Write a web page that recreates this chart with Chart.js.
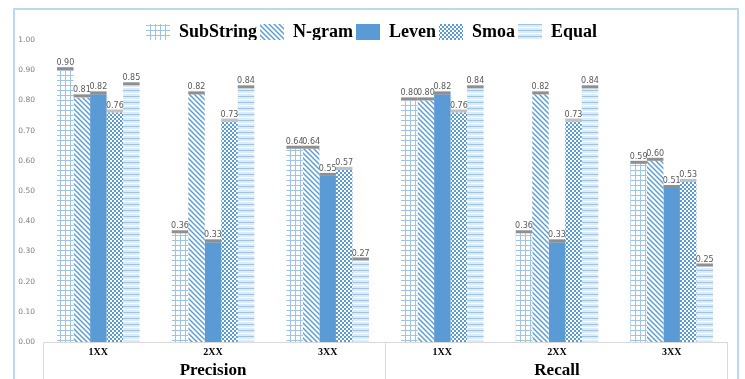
<!DOCTYPE html>
<html>
<head>
<meta charset="utf-8">
<script src="https://cdn.jsdelivr.net/npm/chart.js@4/dist/chart.umd.min.js"></script>
<style>
  html, body { margin: 0; padding: 0; background: #fff; }
  #wrap { width: 745px; height: 379px; position: relative; }
</style>
</head>
<body>
<div id="wrap"><canvas id="c" width="745" height="379"></canvas></div>
<script>
// Categories (two groups of three) and the scores for each matcher
const categories = ['1XX', '2XX', '3XX', '1XX', '2XX', '3XX'];
const groupLabels = ['Precision', 'Recall'];
const seriesNames = ['SubString', 'N-gram', 'Leven', 'Smoa', 'Equal'];
const subString = [0.90, 0.36, 0.64, 0.80, 0.36, 0.59];
const nGram     = [0.81, 0.82, 0.64, 0.80, 0.82, 0.60];
const leven     = [0.82, 0.33, 0.55, 0.82, 0.33, 0.51];
const smoa      = [0.76, 0.73, 0.57, 0.76, 0.73, 0.53];
const equal     = [0.85, 0.84, 0.27, 0.84, 0.84, 0.25];

const BLUE = '#5B9BD5';
const LIGHT = '#9DC3E6';
const PALE = '#DDEBF7';

function tile(w, h, draw) {
  const cv = document.createElement('canvas');
  cv.width = w; cv.height = h;
  const g = cv.getContext('2d');
  draw(g, w, h);
  return document.getElementById('c').getContext('2d').createPattern(cv, 'repeat');
}

// grid fill
const gridPat = tile(5, 5, (g, w, h) => {
  g.fillStyle = '#fff'; g.fillRect(0, 0, w, h);
  g.fillStyle = LIGHT; g.fillRect(0, 0, w, 1); g.fillRect(0, 0, 1, h);
});
// downward diagonal stripes
const diagPat = tile(5, 5, (g, w, h) => {
  g.fillStyle = '#fff'; g.fillRect(0, 0, w, h);
  g.strokeStyle = BLUE; g.lineWidth = 1.4;
  for (let k = -1; k <= 1; k++) {
    g.beginPath(); g.moveTo(k * w - 1, -1); g.lineTo(k * w + w + 1, h + 1); g.stroke();
  }
});
// small checkerboard
const checkPat = tile(4, 4, (g, w, h) => {
  g.fillStyle = '#fff'; g.fillRect(0, 0, w, h);
  g.fillStyle = BLUE; g.fillRect(0, 0, 2, 2); g.fillRect(2, 2, 2, 2);
});
// horizontal stripes on pale blue
const stripePat = tile(4, 6, (g, w, h) => {
  g.fillStyle = PALE; g.fillRect(0, 0, w, h);
  g.fillStyle = LIGHT; g.fillRect(0, 0, w, 1);
  g.fillStyle = '#fff'; g.fillRect(0, 3, w, 1);
});

const fills = [gridPat, diagPat, BLUE, checkPat, stripePat];
const values = [subString, nGram, leven, smoa, equal];

// gray cap on top of every bar plus the value printed above it
const barLabels = {
  id: 'barLabels',
  afterDatasetsDraw(chart) {
    const ctx = chart.ctx;
    ctx.save();
    chart.data.datasets.forEach((ds, di) => {
      const meta = chart.getDatasetMeta(di);
      meta.data.forEach((bar, i) => {
        const w = bar.width;
        ctx.fillStyle = di === 3 ? 'rgba(140,140,140,0.55)' : '#8f8f8f';
        ctx.fillRect(bar.x - w / 2, bar.y - 3, w, 3);
        ctx.fillStyle = '#595959';
        ctx.font = '8px "DejaVu Sans", sans-serif';
        ctx.textAlign = 'center';
        ctx.textBaseline = 'bottom';
        ctx.fillText(ds.data[i].toFixed(2), bar.x, bar.y - 3);
      });
    });
    ctx.restore();
  }
};

// outer frame and the box around the category labels
const frame = {
  id: 'frame',
  afterDraw(chart) {
    const ctx = chart.ctx;
    const a = chart.chartArea;
    ctx.save();
    ctx.strokeStyle = '#BDD7EE';
    ctx.lineWidth = 2;
    ctx.beginPath();
    ctx.moveTo(14, 379); ctx.lineTo(14, 9); ctx.lineTo(738, 9); ctx.lineTo(738, 379);
    ctx.stroke();
    ctx.strokeStyle = '#D9D9D9';
    ctx.lineWidth = 1;
    const mid = (a.left + a.right) / 2;
    ctx.beginPath();
    ctx.moveTo(a.left + 2.5, 379); ctx.lineTo(a.left + 2.5, a.bottom + 0.5);
    ctx.lineTo(a.right - 1.5, a.bottom + 0.5); ctx.lineTo(a.right - 1.5, 379);
    ctx.moveTo(Math.round(mid) + 0.5, a.bottom); ctx.lineTo(Math.round(mid) + 0.5, 379);
    ctx.stroke();
    ctx.restore();
  }
};

new Chart(document.getElementById('c'), {
  type: 'bar',
  data: {
    labels: categories,
    datasets: seriesNames.map((name, i) => ({
      label: name,
      data: values[i],
      backgroundColor: fills[i],
      borderWidth: 0,
      categoryPercentage: 0.72,
      barPercentage: 1.0,
      xAxisID: 'x'
    }))
  },
  options: {
    responsive: false,
    animation: false,
    layout: { padding: { left: 14, right: 16, top: 20, bottom: 0 } },
    plugins: {
      legend: {
        position: 'top',
        maxHeight: 20,
        labels: {
          boxWidth: 24,
          boxHeight: 16,
          padding: 3,
          color: '#000',
          font: { family: '"Liberation Serif", "Times New Roman", serif', weight: 'bold', size: 18 }
        }
      },
      tooltip: { enabled: false }
    },
    scales: {
      x: {
        position: 'bottom',
        grid: { display: false, drawTicks: false, tickLength: 0 },
        border: { display: false },
        ticks: {
          color: '#000',
          padding: 4,
          font: { family: '"Liberation Serif", serif', weight: 'bold', size: 10 }
        },
        afterFit(s) { s.height = 18; }
      },
      x2: {
        type: 'category',
        position: 'bottom',
        labels: groupLabels,
        offset: true,
        grid: { display: false, drawTicks: false, tickLength: 0 },
        border: { display: false },
        ticks: {
          color: '#000',
          padding: 0,
          font: { family: '"Liberation Serif", serif', weight: 'bold', size: 17 }
        },
        afterFit(s) { s.height = 19; }
      },
      y: {
        min: 0,
        max: 1,
        grid: { display: false, drawTicks: false, tickLength: 0 },
        border: { display: false },
        ticks: {
          stepSize: 0.1,
          color: '#808080',
          padding: 6,
          font: { family: '"DejaVu Sans", sans-serif', size: 7.5 },
          callback: v => Number(v).toFixed(2)
        },
        afterFit(s) { s.width = 27; }
      }
    }
  },
  plugins: [barLabels, frame]
});
</script>
</body>
</html>
